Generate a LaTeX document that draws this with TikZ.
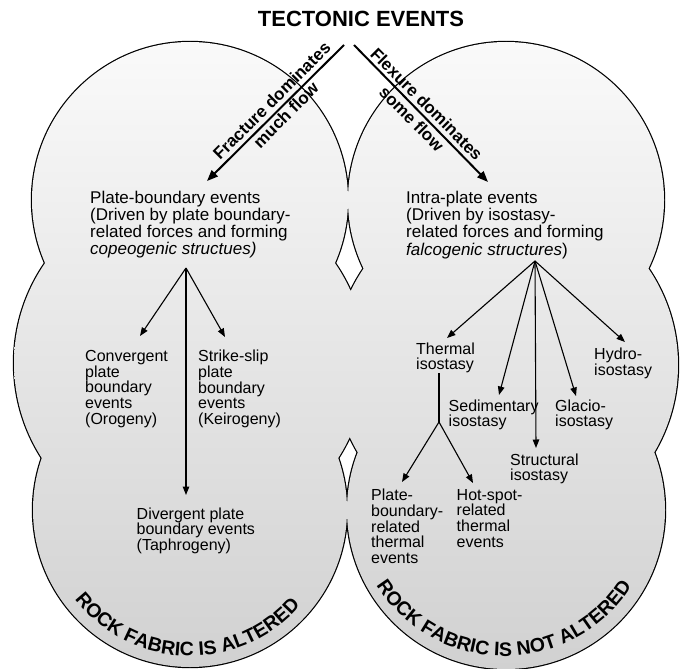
\documentclass[tikz,border=0pt]{standalone}
\usepackage{fontspec}
\setmainfont{Liberation Sans}
\usetikzlibrary{arrows.meta,decorations.text}
\begin{document}
\begin{tikzpicture}[x=1pt,y=-1pt,
  sublbl/.style={font=\fontsize{16}{15.7}\selectfont, align=left, inner sep=0pt, anchor=north west},
  mainblk/.style={font=\fontsize{17}{17.2}\selectfont, align=left, inner sep=0pt, anchor=north west},
  bigarrow/.style={line width=2pt, -{Triangle[length=11pt,width=8.5pt]}},
  smallarrow/.style={line width=1.1pt, -{Triangle[length=8.5pt,width=6.5pt]}},
  arrowlbl/.style={font=\fontsize{17}{17}\selectfont\bfseries, inner sep=0pt},
  cloudline/.style={line width=2.4pt}
]
\useasboundingbox (0,0) rectangle (684,668);
\fill[white] (0,0) rectangle (684,668);

% outlines (outer half stays visible)
\draw[cloudline] (190,200) circle[radius=158];
\draw[cloudline] (190,363) circle[radius=176];
\draw[cloudline] (190,510) circle[radius=157];
\draw[cloudline] (506,200) circle[radius=158];
\draw[cloudline] (506,365) circle[radius=172];
\draw[cloudline] (506,510) circle[radius=159];
% union fill with gradient
\shade[top color=black!2, bottom color=black!18]
  (190,200) circle[radius=158] (190,363) circle[radius=176] (190,510) circle[radius=157]
  (506,200) circle[radius=158] (506,365) circle[radius=172] (506,510) circle[radius=159];

% title
\node[font=\fontsize{22}{22}\selectfont\bfseries, anchor=base, inner sep=0pt] (title) at (361,26.7) {TECTONIC EVENTS};

% main arrows
\coordinate (ls) at (344,45);
\coordinate (lt) at (207,181);
\coordinate (rs) at (354,45);
\coordinate (rt) at (488,182);
\draw[bigarrow] (ls) -- (lt);
\draw[bigarrow] (rs) -- (rt);
\node[arrowlbl, rotate=45] (fd) at (271.7,100.7) {Fracture dominates};
\node[arrowlbl, rotate=45] (mf) at (285.7,115) {much flow};
\node[arrowlbl, rotate=-45] (xd) at (426.7,104) {Flexure dominates};
\node[arrowlbl, rotate=-45] (sf) at (411.7,119) {some flow};

% main blocks
\node[mainblk] (pb) at (90,190.5) {Plate-boundary events\\(Driven by plate boundary-\\related forces and forming\\\textit{copeogenic structues)}};
\node[mainblk] (ip) at (406,191) {Intra-plate events\\(Driven by isostasy-\\related forces and forming\\\textit{falcogenic structures})};

% left sub labels
\node[sublbl] (conv) at (85,350.1) {Convergent\\plate\\boundary\\events\\(Orogeny)};
\node[sublbl] (strike) at (198,350.1) {Strike-slip\\plate\\boundary\\events\\(Keirogeny)};
\node[sublbl] (div) at (136.5,507.4) {Divergent plate\\boundary events\\(Taphrogeny)};

\coordinate (lsrc) at (186,268);
\coordinate (convtip) at (140,336);
\coordinate (striketip) at (225,337);
\coordinate (divtip) at (186,495);
\draw[smallarrow] (lsrc) -- (convtip);
\draw[smallarrow] (lsrc) -- (striketip);
\draw[smallarrow] (lsrc) -- (divtip);

% right sub labels
\node[sublbl] (therm) at (416,342.4) {Thermal\\isostasy};
\node[sublbl] (hydro) at (594,347.7) {Hydro-\\isostasy};
\node[sublbl] (sed) at (448.5,399.4) {Sedimentary\\isostasy};
\node[sublbl] (glac) at (555,399.4) {Glacio-\\isostasy};
\node[sublbl] (struc) at (510,453.4) {Structural\\isostasy};
\node[sublbl] (pbt) at (371,489) {Plate-\\boundary-\\related\\thermal\\events};
\node[sublbl] (hst) at (456.5,489) {Hot-spot-\\related\\thermal\\events};

\coordinate (rsrc) at (535,261);
\coordinate (thermtip) at (447,338);
\coordinate (sedtip) at (499,395);
\coordinate (structip) at (536,448);
\coordinate (glactip) at (576,396);
\coordinate (hydrotip) at (625,342);
\draw[smallarrow] (rsrc) -- (thermtip);
\draw[smallarrow] (rsrc) -- (sedtip);
\draw[smallarrow] (rsrc) -- (structip);
\draw[smallarrow] (rsrc) -- (glactip);
\draw[smallarrow] (rsrc) -- (hydrotip);

\coordinate (ttop) at (439,373);
\coordinate (tbr) at (439,422);
\coordinate (pbttip) at (402,482);
\coordinate (hsttip) at (473,483);
\draw[line width=1.1pt] (ttop) -- (tbr);
\draw[smallarrow] (tbr) -- (pbttip);
\draw[smallarrow] (tbr) -- (hsttip);

% curved labels
\path[decorate, decoration={text along path, text align=center,
  text={|\fontsize{19.5}{19.5}\selectfont\bfseries|ROCK FABRIC IS ALTERED}}]
  (190,510) ++(145:146) arc[start angle=145, end angle=38, radius=146];
\path[decorate, decoration={text along path, text align=center,
  text={|\fontsize{19.5}{19.5}\selectfont\bfseries|ROCK FABRIC IS NOT ALTERED}}]
  (504,505) ++(150:151) arc[start angle=150, end angle=30, radius=151];
\end{tikzpicture}
\end{document}
